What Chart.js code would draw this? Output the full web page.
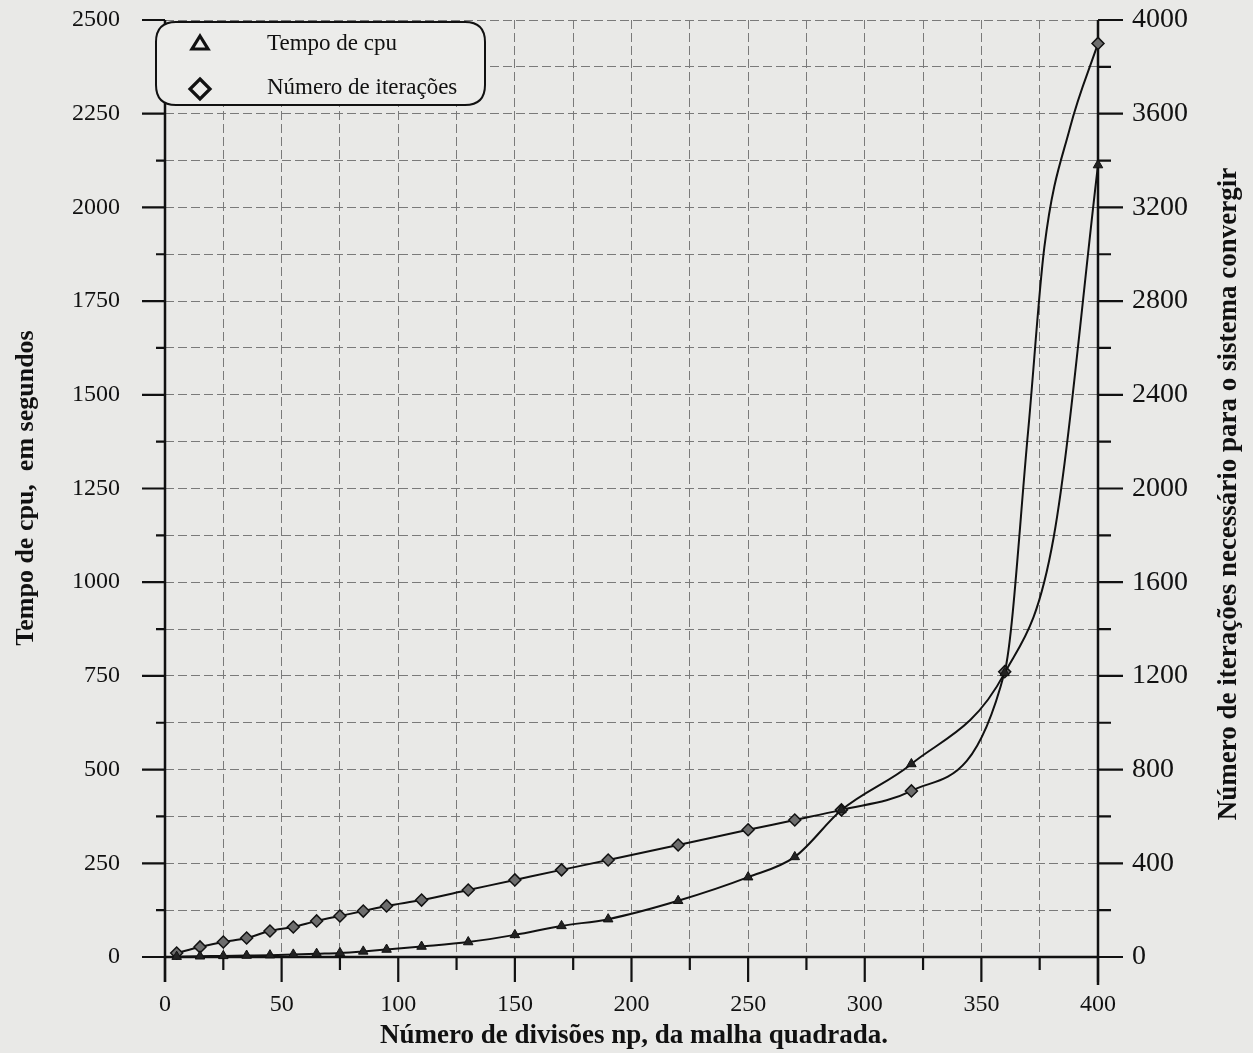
<!DOCTYPE html>
<html><head><meta charset="utf-8">
<script src="https://cdn.jsdelivr.net/npm/chart.js@4.4.1/dist/chart.umd.min.js"></script>
<style>html,body{margin:0;padding:0;background:#e9e9e7;}canvas{display:block}</style>
</head><body>
<canvas id="c" width="1253" height="1053"></canvas>
<script>
// ---- data ----
const seriesNames = ['Tempo de cpu', 'Número de iterações'];
const npCpu   = [5,15,25,35,45,55,65,75,85,95,110,130,150,170,190,220,250,270,290,320,360,381,400];
const cpuTime = [1,2,3,4,5,7,9,11,15,20,28,40,59,83,101,150,213,267,392,515,758,1120,2113];
const cpuShown = [1,1,1,1,1,1,1,1,1,1,1,1,1,1,1,1,1,1,1,1,1,0,1];
const npIter     = [5,15,25,35,45,55,65,75,85,95,110,130,150,170,190,220,250,270,290,320,360,370,377,388,400];
const iterations = [17,43,64,81,111,128,154,175,196,218,243,286,329,372,414,478,543,585,628,709,1218,2240,3030,3540,3900];
const iterShown  = [1,1,1,1,1,1,1,1,1,1,1,1,1,1,1,1,1,1,1,1,1,0,0,0,1];
const xTickLabels = [0,50,100,150,200,250,300,350,400];
const leftTickLabels = [0,250,500,750,1000,1250,1500,1750,2000,2250,2500];
const rightTickLabels = [0,400,800,1200,1600,2000,2400,2800,3200,3600,4000];
const xTitle = 'Número de divisões np, da malha quadrada.';
const leftTitle = 'Tempo de cpu,  em segundos';
const rightTitle = 'Número de iterações necessário para o sistema convergir';

const FONT = '"Liberation Serif", "DejaVu Serif", serif';
const INK = '#111';

const bgPlugin = {
  id: 'bg',
  beforeDraw(chart) {
    const c = chart.ctx;
    c.save(); c.fillStyle = '#e9e9e7'; c.fillRect(0, 0, chart.width, chart.height); c.restore();
  }
};

const axesPlugin = {
  id: 'axes',
  beforeDatasetsDraw(chart) {
    const c = chart.ctx, a = chart.chartArea;
    const sx = chart.scales.x, sl = chart.scales.yL, sr = chart.scales.yR;
    c.save();
    c.strokeStyle = INK; c.lineCap = 'butt';
    c.lineWidth = 2.5;
    c.beginPath();
    c.moveTo(a.left, a.top); c.lineTo(a.left, a.bottom + 25);
    c.moveTo(a.right, a.top); c.lineTo(a.right, a.bottom + 28);
    c.stroke();
    c.lineWidth = 2.2;
    c.beginPath();
    for (let v = 0; v <= 400; v += 25) {
      const px = sx.getPixelForValue(v);
      const len = (v % 50 === 0) ? 25 : 13;
      c.moveTo(px, a.bottom); c.lineTo(px, a.bottom + len);
    }
    for (let v = 0; v <= 2500; v += 125) {
      const py = sl.getPixelForValue(v);
      const len = (v % 250 === 0) ? 23 : 9;
      c.moveTo(a.left - len, py); c.lineTo(a.left, py);
    }
    for (let v = 0; v <= 4000; v += 200) {
      const py = sr.getPixelForValue(v);
      const len = (v % 400 === 0) ? 25 : 13;
      c.moveTo(a.right, py); c.lineTo(a.right + len, py);
    }
    c.stroke();
    c.lineWidth = 2.5;
    c.beginPath();
    c.moveTo(a.left, a.bottom); c.lineTo(a.right, a.bottom);
    c.stroke();
    c.restore();
  },
  afterDraw(chart) {
    const c = chart.ctx;
    c.save();
    c.fillStyle = INK;
    c.textAlign = 'center'; c.textBaseline = 'middle';
    c.font = 'bold 27px ' + FONT;
    c.fillText(xTitle, 634, 1036);
    c.font = 'bold 26px ' + FONT;
    c.save(); c.translate(26, 488); c.rotate(-Math.PI / 2); c.fillText(leftTitle, 0, 0); c.restore();
    c.font = 'bold 27px ' + FONT;
    c.save(); c.translate(1229, 494); c.rotate(-Math.PI / 2); c.fillText(rightTitle, 0, 0); c.restore();
    // legend box
    const bx = 156, by = 22, bw = 329, bh = 83, r = 20;
    c.lineWidth = 2;
    c.strokeStyle = INK;
    c.beginPath();
    c.moveTo(bx + r, by); c.lineTo(bx + bw - r, by); c.quadraticCurveTo(bx + bw, by, bx + bw, by + r);
    c.lineTo(bx + bw, by + bh - r); c.quadraticCurveTo(bx + bw, by + bh, bx + bw - r, by + bh);
    c.lineTo(bx + r, by + bh); c.quadraticCurveTo(bx, by + bh, bx, by + bh - r);
    c.lineTo(bx, by + r); c.quadraticCurveTo(bx, by, bx + r, by);
    c.fillStyle = '#ececea'; c.fill(); c.stroke();
    // symbols
    c.lineWidth = 3.2; c.lineJoin = 'miter';
    c.beginPath();
    c.moveTo(200, 36); c.lineTo(208, 49); c.lineTo(192, 49); c.closePath(); c.stroke();
    c.beginPath();
    c.moveTo(200, 79); c.lineTo(210, 89); c.lineTo(200, 99); c.lineTo(190, 89); c.closePath(); c.stroke();
    c.fillStyle = INK;
    c.font = '23px ' + FONT;
    c.textAlign = 'left'; c.textBaseline = 'alphabetic';
    c.fillText(seriesNames[0], 267, 50);
    c.fillText(seriesNames[1], 267, 94);
    c.restore();
  }
};

const cpuPoints = npCpu.map((x, i) => ({ x, y: cpuTime[i] }));
const iterPoints = npIter.map((x, i) => ({ x, y: iterations[i] }));

function noPad(s) { s.paddingTop = 0; s.paddingBottom = 0; }

new Chart(document.getElementById('c'), {
  type: 'line',
  data: {
    datasets: [
      {
        label: seriesNames[0], data: cpuPoints, yAxisID: 'yL',
        borderColor: INK, borderWidth: 2, cubicInterpolationMode: 'monotone',
        pointStyle: 'triangle', pointRadius: cpuShown.map(s => s ? 5.5 : 0),
        pointBackgroundColor: '#222', pointBorderColor: INK, pointBorderWidth: 1, clip: false
      },
      {
        label: seriesNames[1], data: iterPoints, yAxisID: 'yR',
        borderColor: INK, borderWidth: 2, cubicInterpolationMode: 'monotone',
        pointStyle: 'rectRot', pointRadius: iterShown.map(s => s ? 6 : 0),
        pointBackgroundColor: '#6d6d6d', pointBorderColor: INK, pointBorderWidth: 1.5, clip: false
      }
    ]
  },
  options: {
    responsive: false, animation: false, devicePixelRatio: 1,
    layout: { padding: { top: 20, left: 0, right: 0, bottom: 0 } },
    plugins: { legend: { display: false }, tooltip: { enabled: false } },
    scales: {
      x: {
        type: 'linear', min: 0, max: 400,
        afterFit(s) { s.height = 96; },
        afterBuildTicks(s) { s.ticks = []; for (let v = 0; v <= 400; v += 25) s.ticks.push({ value: v }); },
        ticks: { callback: v => xTickLabels.includes(v) ? String(v) : '', font: { family: FONT, size: 24 }, color: INK, padding: 33, maxRotation: 0, autoSkip: false },
        grid: { drawTicks: false, color: '#7a7a7a', lineWidth: 1 },
        border: { display: false, dash: [9, 4] }
      },
      yL: {
        type: 'linear', position: 'left', min: 0, max: 2500,
        afterFit(s) { s.width = 165; noPad(s); },
        afterBuildTicks(s) { s.ticks = []; for (let v = 0; v <= 2500; v += 125) s.ticks.push({ value: v }); },
        ticks: { callback: v => leftTickLabels.includes(v) ? String(v) : '', font: { family: FONT, size: 24 }, color: INK, padding: 45, autoSkip: false },
        grid: { drawTicks: false, color: '#7a7a7a', lineWidth: 1 },
        border: { display: false, dash: [9, 4] }
      },
      yR: {
        type: 'linear', position: 'right', min: 0, max: 4000,
        afterFit(s) { s.width = 155; noPad(s); },
        afterBuildTicks(s) { s.ticks = []; for (let v = 0; v <= 4000; v += 200) s.ticks.push({ value: v }); },
        ticks: { callback: v => rightTickLabels.includes(v) ? String(v) : '', font: { family: FONT, size: 28 }, color: INK, padding: 34, autoSkip: false },
        grid: { drawOnChartArea: false, drawTicks: false },
        border: { display: false }
      }
    }
  },
  plugins: [bgPlugin, axesPlugin]
});
</script>
</body></html>
